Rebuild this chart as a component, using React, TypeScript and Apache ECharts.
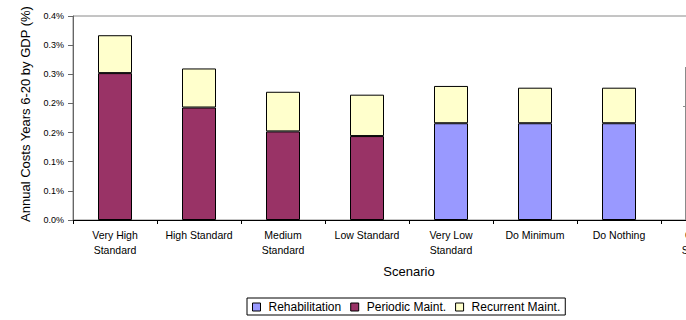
import React, { useEffect, useRef } from "react";
import * as echarts from "echarts";

const categories = [
  "Very High Standard",
  "High Standard",
  "Medium Standard",
  "Low Standard",
  "Very Low Standard",
  "Do Minimum",
  "Do Nothing",
  "Optimal Standard",
];
const rehabilitation = [null, null, null, null, 0.166, 0.166, 0.166, null];
const periodicMaint = [0.252, 0.193, 0.152, 0.144, null, null, null, null];
const recurrentMaint = [0.065, 0.067, 0.068, 0.071, 0.064, 0.061, 0.061, null];
const yTickLabels = ["0.0%", "0.1%", "0.1%", "0.2%", "0.2%", "0.3%", "0.3%", "0.4%"];

const FONT = "'Liberation Sans', Arial, sans-serif";

function wrap(name: string): string {
  if (name.length <= 13) return name;
  const i = name.lastIndexOf(" ");
  return name.slice(0, i) + "\n" + name.slice(i + 1);
}

export default function App() {
  const ref = useRef<HTMLDivElement>(null);
  useEffect(() => {
    if (!ref.current) return;
    const chart = echarts.init(ref.current, null, { renderer: "svg" });
    const barStyle = (color: string) => ({ color, borderColor: "#000", borderWidth: 1 });
    chart.setOption({
      animation: false,
      backgroundColor: "#fff",
      textStyle: { fontFamily: FONT },
      grid: {
        left: 73,
        top: 16,
        width: 672,
        height: 204,
        outerBoundsMode: "none",
        containLabel: false,
        show: true,
        borderColor: "#8a8a8a",
        borderWidth: 1,
        backgroundColor: "#fff",
      },
      legend: {
        left: 247,
        top: 298,
        orient: "horizontal",
        itemWidth: 8,
        itemHeight: 8,
        itemGap: 9,
        icon: "rect",
        borderColor: "#000",
        borderWidth: 1,
        padding: [3, 5, 2, 5],
        itemStyle: { borderColor: "#000", borderWidth: 1 },
        textStyle: { fontFamily: FONT, fontSize: 12, color: "#000", padding: [0, 0, 0, 3] },
        data: ["Rehabilitation", "Periodic Maint.", "Recurrent Maint."],
      },
      xAxis: {
        type: "category",
        data: categories,
        boundaryGap: true,
        name: "Scenario",
        nameLocation: "middle",
        nameGap: 45,
        nameTextStyle: { fontFamily: FONT, fontSize: 13, color: "#000" },
        axisLine: { lineStyle: { color: "#000", width: 1 } },
        axisTick: { show: true, length: 4, inside: false, alignWithLabel: false, lineStyle: { color: "#000" } },
        axisLabel: {
          interval: 0,
          margin: 7,
          fontFamily: FONT,
          fontSize: 10.5,
          lineHeight: 15,
          color: "#000",
          formatter: (v: string) => wrap(v),
        },
        splitLine: { show: false },
      },
      yAxis: {
        type: "value",
        min: 0,
        max: 0.35,
        interval: 0.05,
        axisLine: { show: true, lineStyle: { color: "#666", width: 1 } },
        axisTick: { show: true, length: 5, inside: false, lineStyle: { color: "#666" } },
        axisLabel: {
          margin: 9,
          fontFamily: FONT,
          fontSize: 9,
          color: "#000",
          formatter: (v: number) => yTickLabels[Math.round(v / 0.05)] ?? "",
        },
        splitLine: { show: false },
      },
      graphic: [
        {
          type: "text",
          x: 25,
          y: 114,
          rotation: Math.PI / 2,
          style: {
            text: "Annual Costs Years 6-20 by GDP (%)",
            fontFamily: FONT,
            fontSize: 13,
            fill: "#000",
            textAlign: "center",
            textVerticalAlign: "middle",
          },
        },
        {
          type: "line",
          shape: { x1: 685.5, y1: 67, x2: 685.5, y2: 220 },
          style: { stroke: "#8a8a8a", lineWidth: 1 },
        },
        {
          type: "line",
          shape: { x1: 683, y1: 106.5, x2: 685.5, y2: 106.5 },
          style: { stroke: "#8a8a8a", lineWidth: 1 },
        },
      ],
      series: [
        {
          name: "Rehabilitation",
          type: "bar",
          stack: "total",
          barWidth: 34,
          data: rehabilitation,
          itemStyle: barStyle("#9999FF"),
        },
        {
          name: "Periodic Maint.",
          type: "bar",
          stack: "total",
          barWidth: 34,
          data: periodicMaint,
          itemStyle: barStyle("#993366"),
        },
        {
          name: "Recurrent Maint.",
          type: "bar",
          stack: "total",
          barWidth: 34,
          data: recurrentMaint,
          itemStyle: barStyle("#FFFFCC"),
        },
      ],
    });
    return () => chart.dispose();
  }, []);
  return (
    <div
      ref={ref}
      style={{ position: "fixed", left: 0, top: 0, width: 686, height: 320, background: "#fff" }}
    />
  );
}
